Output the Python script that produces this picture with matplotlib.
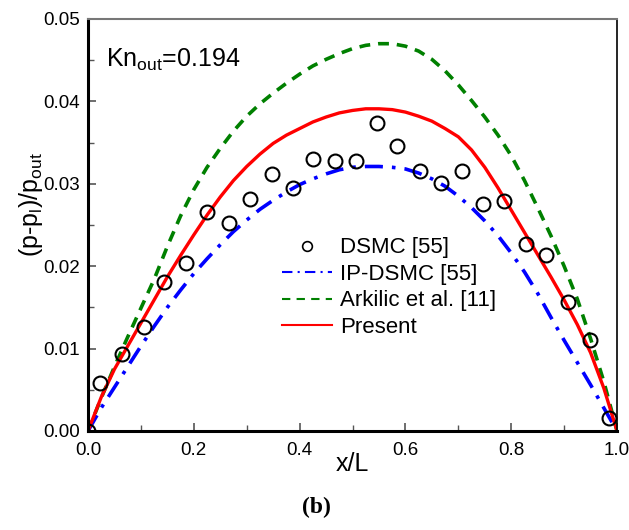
import matplotlib.pyplot as plt
from matplotlib.lines import Line2D

plt.rcParams['font.family'] = ['Liberation Sans', 'DejaVu Sans']

# DSMC [55] points
dsmc_x = [0.0, 0.023, 0.064, 0.106, 0.144, 0.185, 0.225, 0.266, 0.306, 0.347, 0.387,
          0.426, 0.467, 0.507, 0.546, 0.585, 0.627, 0.667, 0.707, 0.746, 0.787,
          0.827, 0.866, 0.907, 0.949, 0.985]
dsmc_y = [0.0, 0.0058, 0.0094, 0.0126, 0.0181, 0.0204, 0.0266, 0.0253, 0.0282, 0.0312, 0.0295,
          0.0330, 0.0328, 0.0328, 0.0374, 0.0346, 0.0315, 0.0301, 0.0315, 0.0275, 0.0279,
          0.0227, 0.0213, 0.0157, 0.0110, 0.0016]

# curves, read every 0.025 in x/L
x_curve = [0.0, 0.025, 0.05, 0.075, 0.1, 0.125, 0.15, 0.175, 0.2, 0.225, 0.25, 0.275,
           0.3, 0.325, 0.35, 0.375, 0.4, 0.425, 0.45, 0.475, 0.5, 0.525, 0.55, 0.575,
           0.6, 0.625, 0.65, 0.675, 0.7, 0.725, 0.75, 0.775, 0.8, 0.825, 0.85, 0.875,
           0.9, 0.925, 0.95, 0.975, 1.0]
ip_dsmc = [0.0, 0.0028, 0.0053, 0.0078, 0.0103, 0.0127, 0.0150, 0.0171, 0.0191, 0.0209,
           0.0226, 0.0242, 0.0256, 0.0269, 0.0280, 0.0290, 0.0299, 0.0306, 0.0312, 0.0317,
           0.0320, 0.0321, 0.0321, 0.0320, 0.0318, 0.0313, 0.0306, 0.0297, 0.0285, 0.0271,
           0.0255, 0.0237, 0.0216, 0.0193, 0.0167, 0.0138, 0.0110, 0.0083, 0.0056, 0.0028,
           0.0]
arkilic = [0.0, 0.0040, 0.0078, 0.0114, 0.0149, 0.0184, 0.0224, 0.0261, 0.0293, 0.0320,
           0.0343, 0.0364, 0.0382, 0.0397, 0.0410, 0.0422, 0.0433, 0.0443, 0.0451, 0.0458,
           0.0464, 0.0468, 0.0470, 0.0470, 0.0467, 0.0461, 0.0451, 0.0437, 0.0420, 0.0401,
           0.0381, 0.0359, 0.0334, 0.0304, 0.0271, 0.0237, 0.0200, 0.0160, 0.0112, 0.0060,
           0.0]
present = [0.0, 0.0041, 0.0075, 0.0103, 0.0131, 0.0159, 0.0187, 0.0213, 0.0238, 0.0262,
           0.0284, 0.0304, 0.0321, 0.0336, 0.0349, 0.0359, 0.0367, 0.0375, 0.0381, 0.0386,
           0.0389, 0.0391, 0.0391, 0.0390, 0.0387, 0.0382, 0.0376, 0.0367, 0.0357, 0.0341,
           0.0320, 0.0295, 0.0268, 0.0241, 0.0214, 0.0187, 0.0159, 0.0129, 0.0095, 0.0052,
           0.0]

labels = ['DSMC [55]', 'IP-DSMC [55]', 'Arkilic et al. [11]', 'Present']

fig = plt.figure(figsize=(6.29, 5.30), dpi=100)
ax = fig.add_axes([0.1399, 0.1868, 0.8411, 0.7774])

ax.plot(x_curve, arkilic, color='#008000', lw=2.6, ls=(0, (3, 2.2)))
ax.plot(x_curve, ip_dsmc, color='#0000ff', lw=2.6, ls=(0, (5, 2.5, 1, 2.5)))
ax.plot(x_curve, present, color='#ff0000', lw=2.4)
ax.plot(dsmc_x, dsmc_y, 'o', mfc='none', mec='black', ms=10, mew=1.5)

ax.set_xlim(0, 1.0)
ax.set_ylim(0, 0.05)
ax.set_xticks([0.0, 0.2, 0.4, 0.6, 0.8, 1.0])
ax.set_xticks([0.1, 0.3, 0.5, 0.7, 0.9], minor=True)
ax.set_yticks([0.0, 0.01, 0.02, 0.03, 0.04, 0.05])
ax.set_yticks([0.005, 0.015, 0.025, 0.035, 0.045], minor=True)
ax.set_xticklabels(['0.0', '0.2', '0.4', '0.6', '0.8', '1.0'])
ax.set_yticklabels(['0.00', '0.01', '0.02', '0.03', '0.04', '0.05'])
ax.tick_params(which='both', direction='in', labelsize=13.5, color='#555555')
ax.tick_params(which='major', length=6, width=1.2)
ax.tick_params(axis='x', which='major', pad=8)
ax.tick_params(axis='y', which='major', pad=6)
ax.tick_params(which='minor', length=4, width=1.0)

ax.spines['left'].set_linewidth(2.2)
ax.spines['bottom'].set_linewidth(2.2)
ax.spines['top'].set_linewidth(1.5)
ax.spines['top'].set_color('#777777')
ax.spines['right'].set_linewidth(1.2)

ax.set_xlabel('x/L', fontsize=18, labelpad=-5)
ax.set_ylabel('(p-p$_\\mathregular{l}$)/p$_\\mathregular{out}$', fontsize=18)
ax.yaxis.set_label_coords(-0.082, 0.549)

ax.text(0.034, 0.9, 'Kn$_\\mathregular{out}$=0.194', transform=ax.transAxes, fontsize=18,
        va='center', ha='left')

handles = [
    Line2D([], [], ls='none', marker='o', mfc='none', mec='black', ms=7, mew=1.2),
    Line2D([], [], color='#0000ff', lw=1.5, ls=(0, (5, 2.5, 1, 2.5))),
    Line2D([], [], color='#008000', lw=1.5, ls=(0, (4, 3))),
    Line2D([], [], color='#ff0000', lw=1.5),
]
ax.legend(handles, labels, loc='upper left', bbox_to_anchor=(0.367, 0.47), frameon=False,
          fontsize=16, handlelength=2.25, handletextpad=0.35, labelspacing=0.25, borderpad=0,
          borderaxespad=0)

fig.text(0.503, 0.042, '(b)', fontsize=17, fontweight='bold', family='Liberation Serif',
         ha='center', va='center')

fig.savefig('out.png', dpi=100)
